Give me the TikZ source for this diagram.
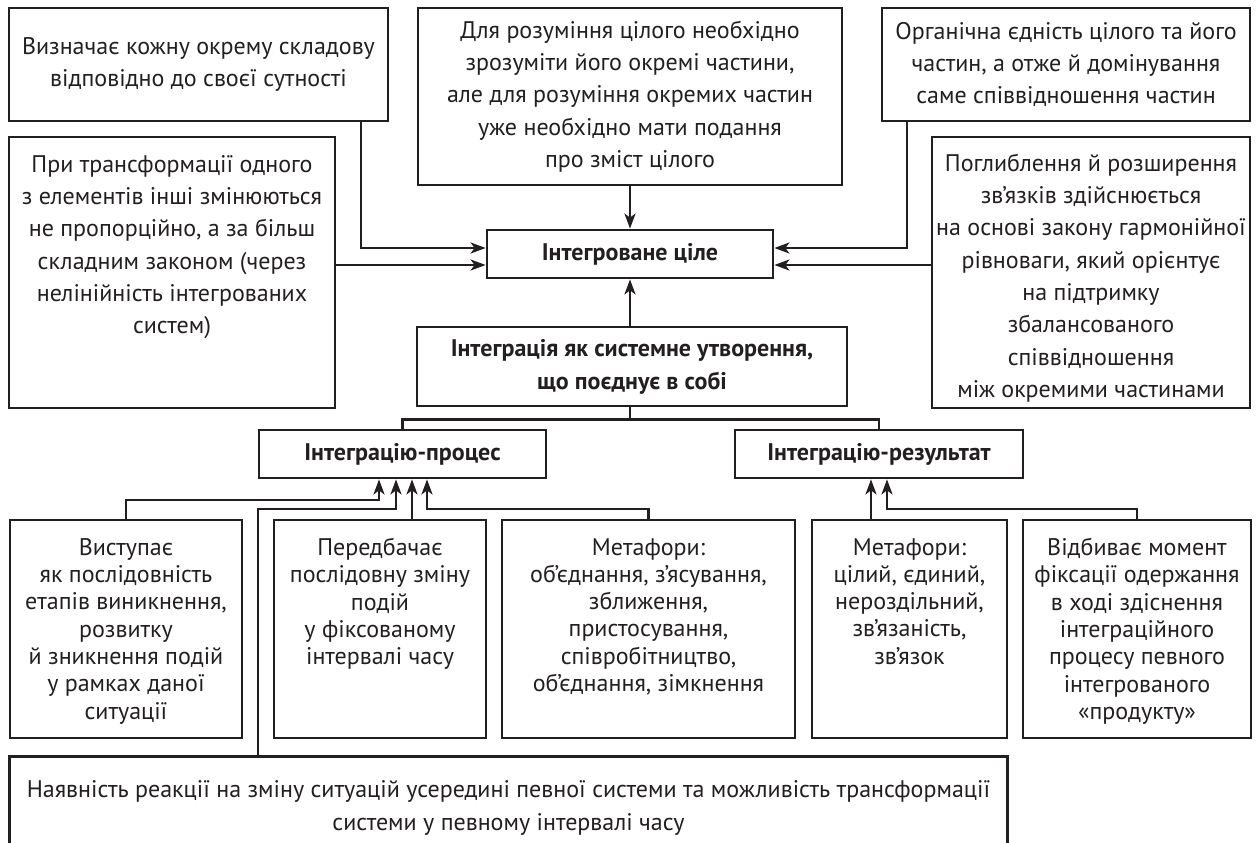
\documentclass[tikz,border=0pt]{standalone}
\usepackage{fontspec}
\setmainfont{PT Sans}
\usetikzlibrary{arrows.meta}
\definecolor{ink}{HTML}{231F20}
\newcommand\fTop{\fontsize{24}{32.3}\selectfont}
\newcommand\fLow{\fontsize{24}{27.3}\selectfont}
\newcommand\fBold{\fontsize{24}{33}\selectfont\bfseries}
\tikzset{
  box/.style={draw=ink, line width=2.8pt, inner sep=0pt, align=center, font=\fTop, text=ink},
  bbox/.style={box, font=\fBold},
  plain/.style={inner sep=0pt, align=center, font=\fTop, text=ink},
  lowbox/.style={draw=ink, line width=2.8pt, inner sep=0pt, minimum height=218pt},
  lowtext/.style={inner sep=0pt, align=center, font=\fLow, text=ink, anchor=north},
  conn/.style={draw=ink, line width=2.3pt},
  arr/.style={conn, -{Stealth[length=15pt,width=11pt,inset=4pt]}}
}
\begin{document}
\begin{tikzpicture}[x=1pt,y=-1pt]
\useasboundingbox (0,0) rectangle (1258,843);
% top row
\node[box, minimum width=379pt, minimum height=113pt] (A) at (198.5,64.5)
  {Визначає кожну окрему складову\\відповідно до своєї сутності};
\node[box, minimum width=424pt, minimum height=177pt] (M) at (630,96.5)
  {Для розуміння цілого необхідно\\зрозуміти його окремі частини,\\але для розуміння окремих частин\\уже необхідно мати подання\\про зміст цілого};
\node[box, minimum width=368pt, minimum height=113pt] (C) at (1066,64.5)
  {Органічна єдність цілого та його\\частин, а отже й домінування\\саме співвідношення частин};
% middle row
\node[box, minimum width=326pt, minimum height=271pt] (B) at (172,272.5) {};
\node[plain] (Bt) at (172,247)
  {При трансформації одного\\з елементів інші змінюються\\не пропорційно, а за більш\\складним законом (через\\нелінійність інтегрованих\\систем)};
\node[box, minimum width=318pt, minimum height=271pt] (D) at (1091,272.5) {};
\node[plain] (Dt) at (1091,278)
  {Поглиблення й розширення\\зв’язків здійснюється\\на основі закону гармонійної\\рівноваги, який орієнтує\\на підтримку\\збалансованого\\співвідношення\\між окремими частинами};
\node[bbox, minimum width=286pt, minimum height=48pt] (I) at (630,254) {Інтегроване ціле};
\node[bbox, minimum width=430pt, minimum height=79pt] (S) at (632,366.5)
  {Інтеграція як системне утворення,\\що поєднує в собі};
\node[bbox, minimum width=287pt, minimum height=48pt] (P) at (402.5,454) {Інтеграцію-процес};
\node[bbox, minimum width=288pt, minimum height=48pt] (R) at (879,454) {Інтеграцію-результат};
% lower row
\node[lowbox, minimum width=232pt] (L1) at (126,629) {};
\node[lowbox, minimum width=212pt] (L2) at (380,629) {};
\node[lowbox, minimum width=293pt] (L3) at (648.5,629) {};
\node[lowbox, minimum width=195pt] (L4) at (909.5,629) {};
\node[lowbox, minimum width=228pt] (L5) at (1137,629) {};
\node[lowtext] (L1t) at (126,538) {Виступає\\як послідовність\\етапів виникнення,\\розвитку\\й зникнення подій\\у рамках даної\\ситуації};
\node[lowtext] (L2t) at (380,538) {Передбачає\\послідовну зміну\\подій\\у фіксованому\\інтервалі часу};
\node[lowtext] (L3t) at (648.5,538) {Метафори:\\об'єднання, з’ясування,\\зближення,\\пристосування,\\співробітництво,\\об'єднання, зімкнення};
\node[lowtext] (L4t) at (909.5,538) {Метафори:\\цілий, єдиний,\\нероздільний,\\зв’язаність,\\зв’язок};
\node[lowtext] (L5t) at (1137,538) {Відбиває момент\\фіксації одержання\\в ході здіснення\\інтеграційного\\процесу певного\\інтегрованого\\«продукту»};
% bottom open box
\node[inner sep=0pt, minimum width=997pt, minimum height=86pt] (N) at (508.5,800) {};
\draw[conn, line width=2.8pt] (N.south west) -- (N.north west) -- (N.north east) -- (N.south east);
\node[inner sep=0pt, align=center, font=\fontsize{24}{33}\selectfont, text=ink] (Nt) at (508.5,808)
  {Наявність реакції на зміну ситуацій усередині певної системи та можливість трансформації\\системи у певному інтервалі часу};
% helper coordinates
\coordinate (xA) at (361,0);
\coordinate (xC) at (907,0);
\coordinate (yA) at (0,248);
\coordinate (yB) at (0,265);
\coordinate (y1) at (0,500);
\coordinate (y2) at (0,509);
\coordinate (p1) at (379,0);
\coordinate (p2) at (396,0);
\coordinate (p3) at (412,0);
\coordinate (p4) at (427,0);
\coordinate (xN) at (258,0);
\coordinate (r1) at (871,0);
\coordinate (r2) at (887,0);
% connectors into I
\draw[arr] (A.south -| xA) |- (I.west |- yA);
\draw[arr] (B.east |- yB) -- (I.west |- yB);
\draw[arr] (C.south -| xC) |- (I.east |- yA);
\draw[arr] (D.west |- yB) -- (I.east |- yB);
\draw[arr] (M.south) -- (I.north);
\draw[arr] (S.north -| I.south) -- (I.south);
% branch
\draw[conn] (S.south -| I.south) -- ++(0,12) coordinate (br) -| (P.north);
\draw[conn] (br) -| (R.north);
% into P
\draw[arr] (L1.north) |- (p1 |- y1) -- (P.south -| p1);
\draw[arr] (N.north -| xN) |- (p2 |- y2) -- (P.south -| p2);
\draw[arr] (L2.north -| p3) -- (P.south -| p3);
\draw[arr] (L3.north) |- (p4 |- y2) -- (P.south -| p4);
% into R
\draw[arr] (L4.north -| r1) -- (R.south -| r1);
\draw[arr] (L5.north) |- (r2 |- y2) -- (R.south -| r2);
\end{tikzpicture}
\end{document}
